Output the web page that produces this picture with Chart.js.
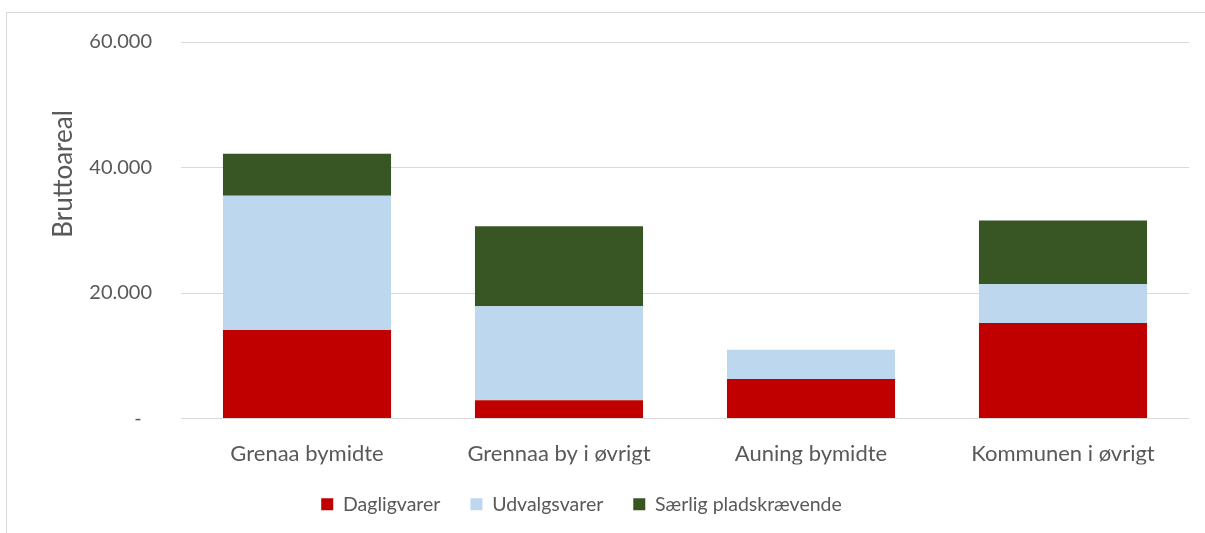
<!DOCTYPE html>
<html>
<head>
<meta charset="utf-8">
<script src="https://cdn.jsdelivr.net/npm/chart.js@4"></script>
<style>
  html, body { margin: 0; padding: 0; background: #fff; }
  #wrap { position: relative; width: 1205px; height: 533px; overflow: hidden; }
  #frame { position: absolute; left: 6px; top: 12px; width: 1220px; height: 540px; border: 1px solid #d9d9d9; box-sizing: border-box; }
  #chart { position: absolute; left: 0; top: 0; }
</style>
</head>
<body>
<div id="wrap">
  <div id="frame"></div>
  <canvas id="chart" width="1205" height="533"></canvas>
</div>
<script>
/* ===== DATA ===== */
const categories = ["Grenaa bymidte", "Grennaa by i øvrigt", "Auning bymidte", "Kommunen i øvrigt"];
const dagligvarer = [14100, 2900, 6300, 15200];
const udvalgsvarer = [21400, 15000, 4650, 6200];
const saerlig = [6700, 12750, 0, 10150];
const yTicks = [0, 20000, 40000, 60000];
const yTitle = "Bruttoareal";

const TXT = "#595959";
const FONT = "Lato, 'Open Sans', sans-serif";

function fmt(v) {
  if (v === 0) return "-  ";
  return String(v).replace(/\B(?=(\d{3})+(?!\d))/g, ".");
}

// y-akse titel sidder lidt over midten, som i Excel
const yTitlePlugin = {
  id: "yTitle",
  afterDraw(chart) {
    const ctx = chart.ctx;
    ctx.save();
    ctx.translate(64, 174);
    ctx.rotate(-Math.PI / 2);
    ctx.fillStyle = TXT;
    ctx.font = "26px " + FONT;
    ctx.textAlign = "center";
    ctx.textBaseline = "middle";
    ctx.fillText(yTitle, 0, 0);
    ctx.restore();
  }
};

// flyt legenden lidt til venstre
const legendShift = {
  id: "legendShift",
  afterLayout(chart) {
    if (chart.legend) {
      chart.legend.left -= 13;
      chart.legend.right -= 13;
    }
  }
};

new Chart(document.getElementById("chart"), {
  type: "bar",
  data: {
    labels: categories,
    datasets: [
      { label: "Dagligvarer", data: dagligvarer, backgroundColor: "#C00000" },
      { label: "Udvalgsvarer", data: udvalgsvarer, backgroundColor: "#BDD7EE" },
      { label: "Særlig pladskrævende", data: saerlig, backgroundColor: "#375623" }
    ]
  },
  plugins: [yTitlePlugin, legendShift],
  options: {
    responsive: false,
    animation: false,
    layout: { padding: { top: 42, right: 16, bottom: 9, left: 0 } },
    datasets: { bar: { categoryPercentage: 1, barPercentage: 0.667 } },
    plugins: {
      tooltip: { enabled: false },
      legend: {
        position: "bottom",
        labels: {
          color: TXT,
          font: { family: FONT, size: 19.5 },
          boxWidth: 12,
          boxHeight: 12,
          padding: 30
        }
      }
    },
    scales: {
      x: {
        stacked: true,
        grid: { display: false, drawTicks: false },
        border: { display: false },
        ticks: { color: TXT, font: { family: FONT, size: 22 }, padding: 22 },
        afterFit: s => { s.height = 46; }
      },
      y: {
        stacked: true,
        min: 0,
        max: 60000,
        afterBuildTicks: s => { s.ticks = yTicks.map(v => ({ value: v })); },
        grid: { color: "#d9d9d9", lineWidth: 1, drawTicks: false },
        border: { display: false },
        ticks: {
          color: TXT,
          font: { family: FONT, size: 20 },
          padding: 29,
          callback: v => fmt(v)
        },
        afterFit: s => { s.width = 181; }
      }
    }
  }
});
</script>
</body>
</html>
